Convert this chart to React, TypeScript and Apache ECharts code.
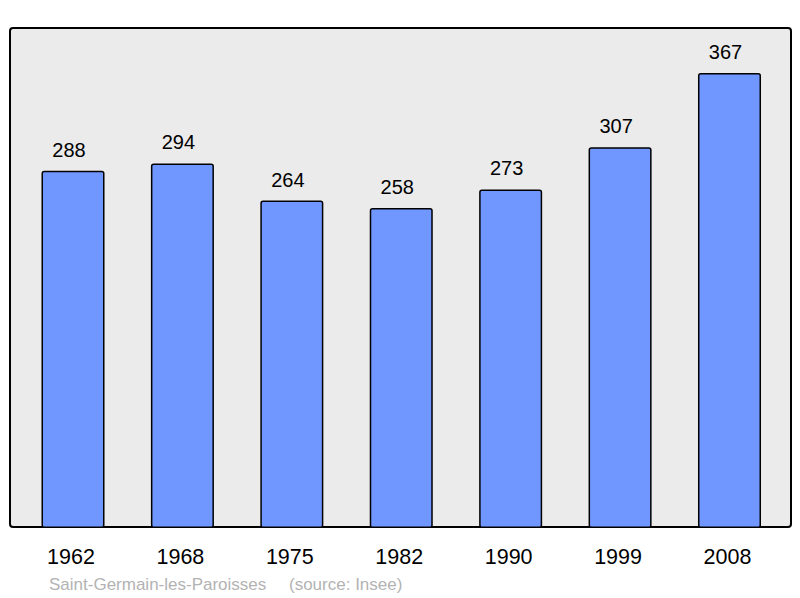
import React, { useEffect, useRef } from "react";
import * as echarts from "echarts";

const years = ["1962", "1968", "1975", "1982", "1990", "1999", "2008"];
const population = [288, 294, 264, 258, 273, 307, 367];
const townName = "Saint-Germain-les-Paroisses";
const sourceNote = "(source: Insee)";

const App: React.FC = () => {
  const chartRef = useRef<HTMLDivElement>(null);

  useEffect(() => {
    document.body.style.margin = "0";
    if (!chartRef.current) return;
    const chart = echarts.init(chartRef.current, null, { renderer: "svg" });

    chart.setOption({
      animation: false,
      textStyle: { fontFamily: "Liberation Sans, Arial, sans-serif" },
      grid: { left: 18.3, right: 15.8, top: 27, bottom: 70 },
      graphic: [
        {
          type: "rect",
          z: -10,
          shape: { x: 10, y: 28, width: 781, height: 499, r: 3 },
          style: { fill: "#ebebeb", stroke: "#000", lineWidth: 2 },
        },
        {
          type: "text",
          x: 49,
          y: 584,
          style: {
            text: townName,
            fill: "#b3b3b3",
            fontSize: 17,
            fontFamily: "Liberation Sans, Arial, sans-serif",
            verticalAlign: "middle",
          },
        },
        {
          type: "text",
          x: 289,
          y: 584,
          style: {
            text: sourceNote,
            fill: "#b3b3b3",
            fontSize: 17,
            fontFamily: "Liberation Sans, Arial, sans-serif",
            verticalAlign: "middle",
          },
        },
      ],
      xAxis: {
        type: "category",
        data: years,
        axisLine: { show: false },
        axisTick: { show: false },
        axisLabel: {
          color: "#000",
          fontSize: 21.5,
          margin: 18,
          padding: [0, 4, 0, 0],
        },
      },
      yAxis: {
        type: "value",
        min: 0,
        max: 404,
        show: false,
        splitLine: { show: false },
      },
      series: [
        {
          type: "bar",
          data: population,
          barWidth: "57.6%",
          itemStyle: {
            color: "#7096ff",
            borderColor: "#000",
            borderWidth: 1.5,
            borderRadius: 2,
          },
          label: {
            show: true,
            position: "top",
            distance: 11,
            offset: [-4, 0],
            color: "#000",
            fontSize: 20,
          },
        },
      ],
    });

    return () => {
      chart.dispose();
    };
  }, []);

  return <div ref={chartRef} style={{ width: 800, height: 598 }} />;
};

export default App;
